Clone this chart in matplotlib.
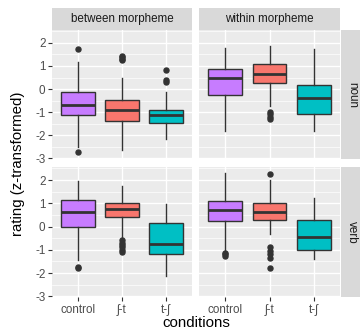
"""Boxplots of z-transformed ratings by condition, faceted by morpheme boundary
(columns) and part of speech (rows), in ggplot2 style.

Produces:
  out.png
"""

import matplotlib.pyplot as plt

plt.rcParams['font.family'] = ['Liberation Sans', 'DejaVu Sans']

conditions = ['control', 'ʃ-t', 't-ʃ']
morphemes = ['between morpheme', 'within morpheme']
parts = ['noun', 'verb']
colors = ['#C77CFF', '#F8766D', '#00BFC4']

# one row per panel: noun/between, noun/within, verb/between, verb/within
medians = [[-0.71, -0.91, -1.11],
           [0.49, 0.66, -0.40],
           [0.61, 0.76, -0.74],
           [0.73, 0.64, -0.43]]
q1 = [[-1.11, -1.40, -1.49],
      [-0.26, 0.27, -1.10],
      [0.00, 0.40, -1.18],
      [0.22, 0.30, -1.00]]
q3 = [[-0.14, -0.46, -0.89],
      [0.89, 1.10, 0.17],
      [1.12, 1.00, 0.15],
      [1.09, 1.02, 0.27]]
whis_lo = [[-2.50, -2.62, -2.17],
           [-1.81, -0.74, -1.81],
           [-1.44, -0.50, -2.13],
           [-1.08, -0.31, -1.40]]
whis_hi = [[1.19, 0.46, -0.11],
           [1.79, 1.86, 1.74],
           [1.96, 1.74, 0.99],
           [2.32, 2.00, 1.23]]
outliers = [[[1.74, -2.74], [1.25, 1.32, 1.38, 1.45], [0.82, 0.30, 0.38]],
            [[], [-1.00, -1.10, -1.20, -1.30], []],
            [[-1.76, -1.80], [-0.60, -0.70, -0.80, -0.90, -1.00, -1.08], []],
            [[-1.12, -1.20, -1.28], [2.28, -0.90, -1.05, -1.20, -1.35, -1.80], []]]

fig = plt.figure(figsize=(3.6, 3.31), dpi=100)

# panel geometry in figure fractions
col_x = [(0.1444, 0.3889), (0.5528, 0.3917)]
row_y = [(0.5196, 0.3898), (0.1027, 0.3928)]

for r, part in enumerate(parts):
    for c, morph in enumerate(morphemes):
        k = r * 2 + c
        x0, w = col_x[c]
        y0, h = row_y[r]
        ax = fig.add_axes([x0, y0, w, h])
        ax.set_facecolor('#EBEBEB')
        for s in ax.spines.values():
            s.set_visible(False)

        stats = []
        for i, cond in enumerate(conditions):
            stats.append(dict(med=medians[k][i], q1=q1[k][i], q3=q3[k][i],
                              whislo=whis_lo[k][i], whishi=whis_hi[k][i],
                              fliers=outliers[k][i], label=cond))
        bp = ax.bxp(stats, positions=[1, 2, 3], widths=0.77, patch_artist=True,
                    showcaps=False, zorder=3,
                    boxprops=dict(edgecolor='#333333', linewidth=1.0),
                    whiskerprops=dict(color='#333333', linewidth=1.0),
                    medianprops=dict(color='#333333', linewidth=2.0),
                    flierprops=dict(marker='o', markerfacecolor='#333333',
                                    markeredgecolor='#333333', markersize=3.6))
        for patch, col in zip(bp['boxes'], colors):
            patch.set_facecolor(col)

        ax.set_xlim(0.4, 3.6)
        ax.set_ylim(-3.03, 2.56)
        ax.set_yticks([-3, -2, -1, 0, 1, 2])
        ax.set_yticks([-2.5, -1.5, -0.5, 0.5, 1.5, 2.5], minor=True)
        ax.set_xticks([1, 2, 3])
        ax.grid(True, which='major', color='white', linewidth=1.0, zorder=0)
        ax.grid(True, which='minor', axis='y', color='white', linewidth=0.5, zorder=0)
        ax.set_axisbelow(True)
        ax.tick_params(which='major', length=2.7, width=0.8, color='#333333',
                       labelsize=8.4, labelcolor='#4D4D4D', pad=2)
        ax.tick_params(which='minor', length=0)

        if c == 0:
            ax.set_yticklabels(['-3', '-2', '-1', '0', '1', '2'])
        else:
            ax.tick_params(axis='y', which='major', length=0, labelleft=False)
        if r == 1:
            ax.set_xticklabels(conditions)
        else:
            ax.tick_params(axis='x', length=0, labelbottom=False)

        # column strip on top row
        if r == 0:
            sx = fig.add_axes([x0, y0 + h, w, 0.0665])
            sx.set_facecolor('#D9D9D9')
            sx.set_xticks([]); sx.set_yticks([])
            for s in sx.spines.values():
                s.set_visible(False)
            sx.text(0.5, 0.5, morph, ha='center', va='center',
                    fontsize=8.4, color='#1A1A1A', transform=sx.transAxes)
        # row strip on right column
        if c == 1:
            sy = fig.add_axes([x0 + w + 0.003, y0, 0.06, h])
            sy.set_facecolor('#D9D9D9')
            sy.set_xticks([]); sy.set_yticks([])
            for s in sy.spines.values():
                s.set_visible(False)
            sy.text(0.5, 0.5, part, ha='center', va='center', rotation=-90,
                    fontsize=8.4, color='#1A1A1A', transform=sy.transAxes)

fig.text(0.5444, 0.025, 'conditions', ha='center', va='center', fontsize=10.8)
fig.text(0.05, 0.505, 'rating (z-transformed)', ha='center', va='center',
         rotation=90, fontsize=10.8)

fig.savefig('out.png', dpi=100)
